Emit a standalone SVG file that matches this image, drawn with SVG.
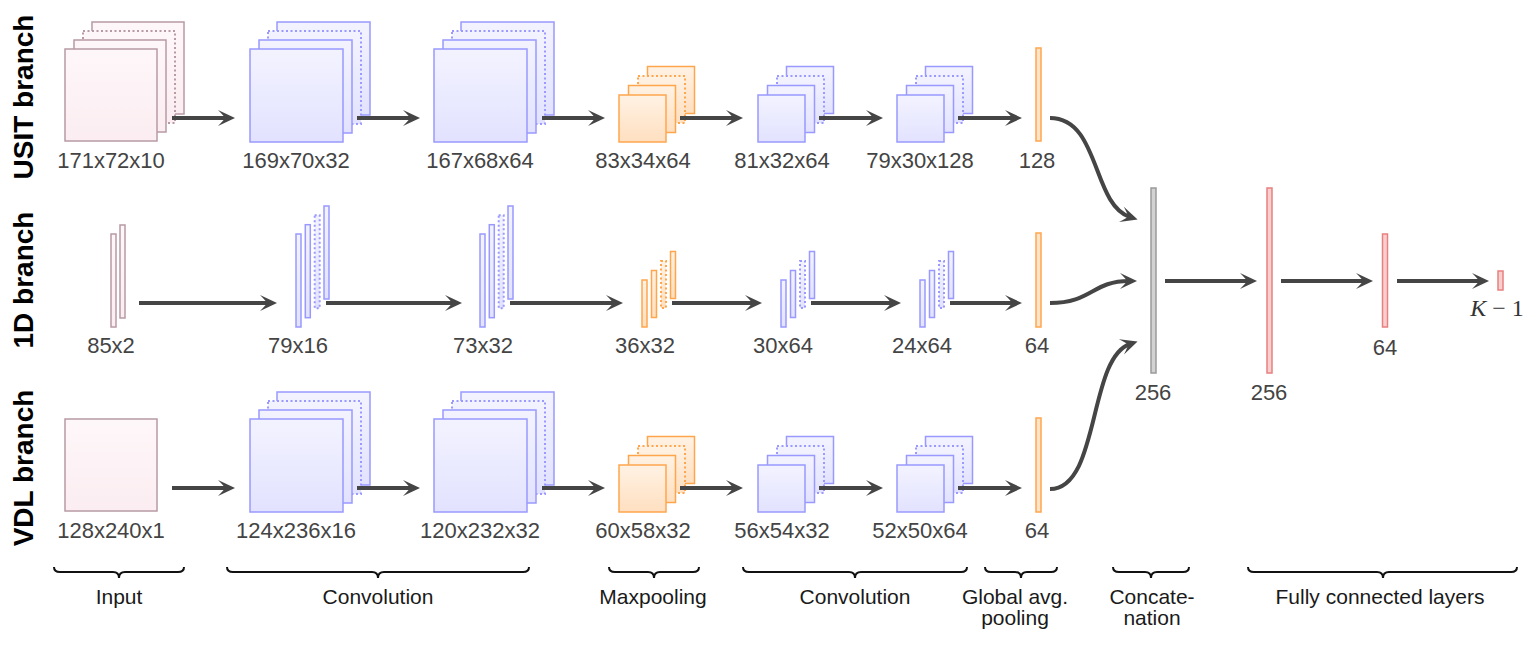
<svg xmlns="http://www.w3.org/2000/svg" width="1536" height="645" viewBox="0 0 1536 645">
<defs>
<linearGradient id="gIn" x1="0" y1="0" x2="0" y2="1"><stop offset="0" stop-color="#fef7f9"/><stop offset="1" stop-color="#fbedf1"/></linearGradient>
<linearGradient id="gConv" x1="0" y1="0" x2="0" y2="1"><stop offset="0" stop-color="#f3f3ff"/><stop offset="1" stop-color="#e2e2ff"/></linearGradient>
<linearGradient id="gPool" x1="0" y1="0" x2="0" y2="1"><stop offset="0" stop-color="#fff2e4"/><stop offset="1" stop-color="#ffdfc0"/></linearGradient>
<marker id="ah" viewBox="-20 -10 22 20" refX="-8" refY="0" markerWidth="22" markerHeight="20" markerUnits="userSpaceOnUse" orient="auto">
<path d="M0,0 L-17,-8 Q-11,-2 -10,0 Q-11,2 -17,8 Z" fill="#454545"/>
</marker>
<style>
.in{fill:url(#gIn);stroke:#b89aa4;stroke-width:1.5}
.cv{fill:url(#gConv);stroke:#9999ff;stroke-width:1.5}
.pl{fill:url(#gPool);stroke:#ffa64d;stroke-width:1.5}
.gap{fill:#ffe4c8;stroke:#ffa64d;stroke-width:1.5}
.cat{fill:#d2d2d2;stroke:#9a9a9a;stroke-width:1.5}
.fc{fill:#f8cfcf;stroke:#e88080;stroke-width:1.5}
.dot{stroke-dasharray:2 2.5;stroke-width:2}
.num{font-family:"Liberation Sans",Arial,sans-serif;font-size:22px;fill:#444;text-anchor:middle}
.cap{font-family:"Liberation Sans",Arial,sans-serif;font-size:21px;fill:#1a1a1a;text-anchor:middle}
.br{font-family:"Liberation Sans",Arial,sans-serif;font-size:28px;font-weight:bold;fill:#000;text-anchor:middle}
.ar{fill:none;stroke:#454545;stroke-width:4;marker-end:url(#ah)}
.brace{fill:none;stroke:#111;stroke-width:2}
</style>
</defs>
<rect width="1536" height="645" fill="#fff"/>

<g id="branch-labels">
<text class="br" transform="translate(33,97) rotate(-90)">USIT branch</text>
<text class="br" transform="translate(33,280) rotate(-90)">1D branch</text>
<text class="br" transform="translate(33,468) rotate(-90)">VDL branch</text>
</g>

<!-- USIT branch -->
<g id="usit-input">
<rect class="in" x="92" y="22" width="92" height="92"/>
<rect class="in dot" x="83" y="31" width="92" height="92"/>
<rect class="in" x="74" y="40" width="92" height="92"/>
<rect class="in" x="65" y="49" width="92" height="92"/>
<text class="num" x="111" y="168">171x72x10</text>
</g>
<g id="usit-conv1">
<rect class="cv" x="277" y="22" width="93" height="93"/>
<rect class="cv dot" x="268" y="31" width="93" height="93"/>
<rect class="cv" x="259" y="40" width="93" height="93"/>
<rect class="cv" x="250" y="49" width="93" height="93"/>
<text class="num" x="296" y="168">169x70x32</text>
</g>
<g id="usit-conv2">
<rect class="cv" x="461" y="22" width="93" height="93"/>
<rect class="cv dot" x="452" y="31" width="93" height="93"/>
<rect class="cv" x="443" y="40" width="93" height="93"/>
<rect class="cv" x="434" y="49" width="93" height="93"/>
<text class="num" x="480" y="168">167x68x64</text>
</g>
<g id="usit-pool">
<rect class="pl" x="647.5" y="66.5" width="47" height="47"/>
<rect class="pl dot" x="638" y="76" width="47" height="47"/>
<rect class="pl" x="628.5" y="85.5" width="47" height="47"/>
<rect class="pl" x="619" y="95" width="47" height="47"/>
<text class="num" x="643" y="168">83x34x64</text>
</g>
<g id="usit-conv3">
<rect class="cv" x="786.5" y="66.5" width="47" height="47"/>
<rect class="cv dot" x="777" y="76" width="47" height="47"/>
<rect class="cv" x="767.5" y="85.5" width="47" height="47"/>
<rect class="cv" x="758" y="95" width="47" height="47"/>
<text class="num" x="782" y="168">81x32x64</text>
</g>
<g id="usit-conv4">
<rect class="cv" x="925.5" y="66.5" width="47" height="47"/>
<rect class="cv dot" x="916" y="76" width="47" height="47"/>
<rect class="cv" x="906.5" y="85.5" width="47" height="47"/>
<rect class="cv" x="897" y="95" width="47" height="47"/>
<text class="num" x="920" y="168">79x30x128</text>
</g>
<g id="usit-gap">
<rect class="gap" x="1036" y="48" width="5" height="93"/>
<text class="num" x="1037" y="168">128</text>
</g>

<!-- 1D branch -->
<g id="d1-input">
<rect class="in" x="120" y="225" width="5" height="93"/>
<rect class="in" x="111" y="234" width="5" height="93"/>
<text class="num" x="111" y="353">85x2</text>
</g>
<g id="d1-conv1">
<rect class="cv" x="324" y="206" width="5" height="93"/>
<rect class="cv dot" x="314.7" y="215.3" width="5" height="93"/>
<rect class="cv" x="305.3" y="224.7" width="5" height="93"/>
<rect class="cv" x="296" y="234" width="5" height="93"/>
<text class="num" x="298" y="353">79x16</text>
</g>
<g id="d1-conv2">
<rect class="cv" x="508" y="206" width="5" height="93"/>
<rect class="cv dot" x="498.7" y="215.3" width="5" height="93"/>
<rect class="cv" x="489.3" y="224.7" width="5" height="93"/>
<rect class="cv" x="480" y="234" width="5" height="93"/>
<text class="num" x="483" y="353">73x32</text>
</g>
<g id="d1-pool">
<rect class="pl" x="670.5" y="251.5" width="5" height="47"/>
<rect class="pl dot" x="661" y="261" width="5" height="47"/>
<rect class="pl" x="651.5" y="270.5" width="5" height="47"/>
<rect class="pl" x="642" y="280" width="5" height="47"/>
<text class="num" x="645" y="353">36x32</text>
</g>
<g id="d1-conv3">
<rect class="cv" x="809.5" y="251.5" width="5" height="47"/>
<rect class="cv dot" x="800" y="261" width="5" height="47"/>
<rect class="cv" x="790.5" y="270.5" width="5" height="47"/>
<rect class="cv" x="781" y="280" width="5" height="47"/>
<text class="num" x="783" y="353">30x64</text>
</g>
<g id="d1-conv4">
<rect class="cv" x="948.5" y="251.5" width="5" height="47"/>
<rect class="cv dot" x="939" y="261" width="5" height="47"/>
<rect class="cv" x="929.5" y="270.5" width="5" height="47"/>
<rect class="cv" x="920" y="280" width="5" height="47"/>
<text class="num" x="922" y="353">24x64</text>
</g>
<g id="d1-gap">
<rect class="gap" x="1036" y="233" width="5" height="94"/>
<text class="num" x="1037" y="353">64</text>
</g>

<!-- VDL branch -->
<g id="vdl-input">
<rect class="in" x="65" y="419" width="92" height="92"/>
<text class="num" x="111" y="538">128x240x1</text>
</g>
<g id="vdl-conv1">
<rect class="cv" x="277" y="392" width="93" height="93"/>
<rect class="cv dot" x="268" y="401" width="93" height="93"/>
<rect class="cv" x="259" y="410" width="93" height="93"/>
<rect class="cv" x="250" y="419" width="93" height="93"/>
<text class="num" x="296" y="538">124x236x16</text>
</g>
<g id="vdl-conv2">
<rect class="cv" x="461" y="392" width="93" height="93"/>
<rect class="cv dot" x="452" y="401" width="93" height="93"/>
<rect class="cv" x="443" y="410" width="93" height="93"/>
<rect class="cv" x="434" y="419" width="93" height="93"/>
<text class="num" x="480" y="538">120x232x32</text>
</g>
<g id="vdl-pool">
<rect class="pl" x="647.5" y="436.5" width="47" height="47"/>
<rect class="pl dot" x="638" y="446" width="47" height="47"/>
<rect class="pl" x="628.5" y="455.5" width="47" height="47"/>
<rect class="pl" x="619" y="465" width="47" height="47"/>
<text class="num" x="643" y="538">60x58x32</text>
</g>
<g id="vdl-conv3">
<rect class="cv" x="786.5" y="436.5" width="47" height="47"/>
<rect class="cv dot" x="777" y="446" width="47" height="47"/>
<rect class="cv" x="767.5" y="455.5" width="47" height="47"/>
<rect class="cv" x="758" y="465" width="47" height="47"/>
<text class="num" x="782" y="538">56x54x32</text>
</g>
<g id="vdl-conv4">
<rect class="cv" x="925.5" y="436.5" width="47" height="47"/>
<rect class="cv dot" x="916" y="446" width="47" height="47"/>
<rect class="cv" x="906.5" y="455.5" width="47" height="47"/>
<rect class="cv" x="897" y="465" width="47" height="47"/>
<text class="num" x="920" y="538">52x50x64</text>
</g>
<g id="vdl-gap">
<rect class="gap" x="1036" y="418" width="5" height="94"/>
<text class="num" x="1037" y="538">64</text>
</g>

<!-- head -->
<g id="concat">
<rect class="cat" x="1151" y="188" width="5" height="185"/>
<text class="num" x="1153" y="400">256</text>
</g>
<g id="fc1">
<rect class="fc" x="1267" y="188" width="5" height="185"/>
<text class="num" x="1269" y="400">256</text>
</g>
<g id="fc2">
<rect class="fc" x="1382.5" y="234" width="5" height="93"/>
<text class="num" x="1385" y="355">64</text>
</g>
<g id="output">
<rect class="fc" x="1498" y="271" width="5" height="19"/>
<text x="1497" y="316" text-anchor="middle" font-family="'Liberation Serif','Times New Roman',serif" font-size="24" fill="#333"><tspan font-style="italic">K</tspan> − 1</text>
</g>

<g id="connectors">
<line class="ar" x1="172" y1="118" x2="227" y2="118"/>
<line class="ar" x1="357" y1="118" x2="412" y2="118"/>
<line class="ar" x1="542" y1="118" x2="597" y2="118"/>
<line class="ar" x1="680" y1="118" x2="735" y2="118"/>
<line class="ar" x1="819" y1="118" x2="875" y2="118"/>
<line class="ar" x1="958" y1="118" x2="1014" y2="118"/>

<line class="ar" x1="139" y1="303" x2="269" y2="303"/>
<line class="ar" x1="326" y1="303" x2="454" y2="303"/>
<line class="ar" x1="510" y1="303" x2="615" y2="303"/>
<line class="ar" x1="672" y1="303" x2="754" y2="303"/>
<line class="ar" x1="811" y1="303" x2="893" y2="303"/>
<line class="ar" x1="950" y1="303" x2="1014" y2="303"/>

<line class="ar" x1="172" y1="488" x2="227" y2="488"/>
<line class="ar" x1="357" y1="488" x2="412" y2="488"/>
<line class="ar" x1="542" y1="488" x2="597" y2="488"/>
<line class="ar" x1="680" y1="488" x2="735" y2="488"/>
<line class="ar" x1="819" y1="488" x2="875" y2="488"/>
<line class="ar" x1="958" y1="488" x2="1014" y2="488"/>

<path class="ar" d="M1050,118 C1100,118 1092,205 1130,217"/>
<path class="ar" d="M1050,303 C1092,303 1092,281 1129,281"/>
<path class="ar" d="M1050,489 C1100,489 1088,358 1130,344"/>

<line class="ar" x1="1165" y1="281" x2="1249" y2="281"/>
<line class="ar" x1="1281" y1="281" x2="1365" y2="281"/>
<line class="ar" x1="1397" y1="281" x2="1481" y2="281"/>
</g>

<g id="braces">
<path class="brace" d="M54,567 Q54,572 60,572 L113,572 Q119,572 119,578 Q119,572 125,572 L178,572 Q184,572 184,567"/>
<path class="brace" d="M227,567 Q227,572 233,572 L372,572 Q378,572 378,578 Q378,572 384,572 L523,572 Q529,572 529,567"/>
<path class="brace" d="M609,567 Q609,572 615,572 L648,572 Q654,572 654,578 Q654,572 660,572 L693,572 Q699,572 699,567"/>
<path class="brace" d="M743,567 Q743,572 749,572 L849,572 Q855,572 855,578 Q855,572 861,572 L961,572 Q967,572 967,567"/>
<path class="brace" d="M985,567 Q985,572 991,572 L1015,572 Q1021,572 1021,578 Q1021,572 1027,572 L1051,572 Q1057,572 1057,567"/>
<path class="brace" d="M1113,567 Q1113,572 1119,572 L1145,572 Q1151,572 1151,578 Q1151,572 1157,572 L1183,572 Q1189,572 1189,567"/>
<path class="brace" d="M1248,567 Q1248,572 1254,572 L1377,572 Q1383,572 1383,578 Q1383,572 1389,572 L1511,572 Q1517,572 1517,567"/>
<text class="cap" x="119" y="604">Input</text>
<text class="cap" x="378" y="604">Convolution</text>
<text class="cap" x="653" y="604">Maxpooling</text>
<text class="cap" x="855" y="604">Convolution</text>
<text class="cap" x="1015" y="604">Global avg.</text>
<text class="cap" x="1015" y="625">pooling</text>
<text class="cap" x="1152" y="604">Concate-</text>
<text class="cap" x="1152" y="625">nation</text>
<text class="cap" x="1380" y="604">Fully connected layers</text>
</g>
</svg>
